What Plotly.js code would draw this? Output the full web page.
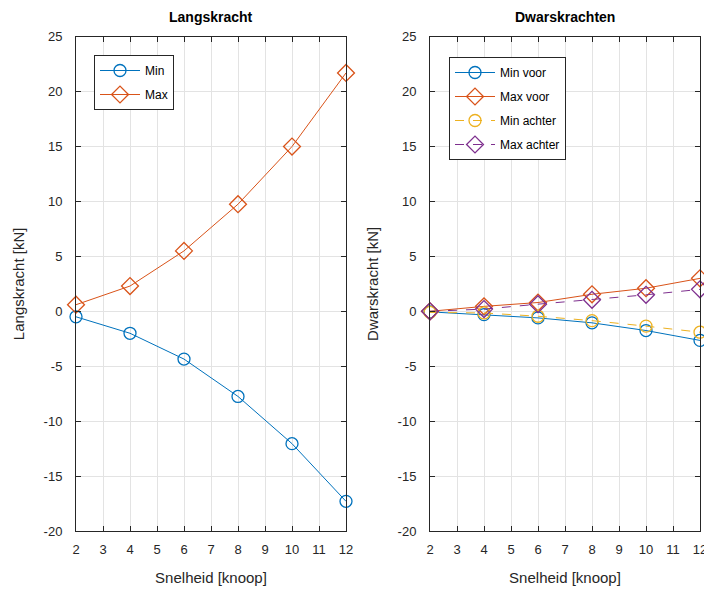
<!DOCTYPE html>
<html>
<head>
<meta charset="utf-8">
<script src="https://cdn.plot.ly/plotly-3.0.1.min.js"></script>
<style>html,body{margin:0;padding:0;background:#fff;}#chart{width:704px;height:590px;}</style>
</head>
<body>
<div id="chart"></div>
<script>
// Data
const snelheid = [2, 4, 6, 8, 10, 12];
const langMin = [-0.5, -2.0, -4.35, -7.75, -12.05, -17.3];
const langMax = [0.6, 2.3, 5.5, 9.75, 15.0, 21.7];
const dwarsMinVoor = [-0.05, -0.3, -0.6, -1.05, -1.75, -2.65];
const dwarsMaxVoor = [0.0, 0.45, 0.8, 1.55, 2.1, 3.0];
const dwarsMinAchter = [-0.1, -0.15, -0.45, -0.85, -1.35, -1.9];
const dwarsMaxAchter = [0.0, 0.2, 0.65, 1.05, 1.5, 2.0];
const xTicks = [2, 3, 4, 5, 6, 7, 8, 9, 10, 11, 12];
const yTicks = [-20, -15, -10, -5, 0, 5, 10, 15, 20, 25];

const C = {blue: '#0072BD', orange: '#D95319', yellow: '#EDB120', purple: '#7E2F8E'};
const FONT = 'Liberation Sans, Arial, Helvetica, sans-serif';

function tr(y, name, color, symbol, size, dash, xa, ya, legend) {
  return {
    x: snelheid, y: y, name: name, type: 'scatter', mode: 'lines+markers',
    xaxis: xa, yaxis: ya, legend: legend, legendgroup: name, cliponaxis: false,
    line: {color: color, width: 1, dash: dash},
    marker: {symbol: symbol, size: size, color: color, line: {color: color, width: 1.3}}
  };
}

const traces = [
  tr(langMin, 'Min', C.blue, 'circle-open', 12, 'solid', 'x', 'y', 'legend'),
  tr(langMax, 'Max', C.orange, 'diamond-open', 13, 'solid', 'x', 'y', 'legend'),
  tr(dwarsMinVoor, 'Min voor', C.blue, 'circle-open', 12, 'solid', 'x2', 'y2', 'legend2'),
  tr(dwarsMaxVoor, 'Max voor', C.orange, 'diamond-open', 13, 'solid', 'x2', 'y2', 'legend2'),
  tr(dwarsMinAchter, 'Min achter', C.yellow, 'circle-open', 12, 'dash', 'x2', 'y2', 'legend2'),
  tr(dwarsMaxAchter, 'Max achter', C.purple, 'diamond-open', 13, 'dash', 'x2', 'y2', 'legend2')
];

const W = 704, H = 590;
function xaxis(d0, d1, anchor) {
  return {
    domain: [d0 / W, d1 / W], anchor: anchor, range: [2, 12],
    tickmode: 'array', tickvals: xTicks, ticktext: xTicks.map(String),
    ticks: 'inside', ticklen: 5, tickcolor: '#262626', tickwidth: 1,
    showline: true, linecolor: '#262626', linewidth: 1, mirror: 'ticks',
    showgrid: true, gridcolor: '#e3e3e3', gridwidth: 1, zeroline: false,
    ticklabeloverflow: 'allow', ticklabelstandoff: 6,
    tickfont: {family: FONT, size: 13, color: '#262626'},
    title: {text: 'Snelheid [knoop]', font: {family: FONT, size: 15, color: '#262626'}, standoff: 16}
  };
}
function yaxis(anchor, label) {
  return {
    domain: [1 - 531 / H, 1 - 36.7 / H], anchor: anchor, range: [-20, 25],
    tickmode: 'array', tickvals: yTicks, ticktext: yTicks.map(String),
    ticks: 'inside', ticklen: 5, tickcolor: '#262626', tickwidth: 1,
    showline: true, linecolor: '#262626', linewidth: 1, mirror: 'ticks',
    showgrid: true, gridcolor: '#e3e3e3', gridwidth: 1, zeroline: false,
    ticklabeloverflow: 'allow', ticklabelstandoff: 10,
    tickfont: {family: FONT, size: 13, color: '#262626'},
    title: {text: label, font: {family: FONT, size: 15, color: '#262626'}, standoff: 15}
  };
}

const legendBase = {
  bgcolor: '#ffffff', bordercolor: '#262626', borderwidth: 1,
  font: {family: FONT, size: 12, color: '#000'},
  xanchor: 'left', yanchor: 'top', traceorder: 'grouped', tracegroupgap: 5, itemwidth: 40
};

const layout = {
  width: W, height: H,
  margin: {l: 0, r: 0, t: 0, b: 0},
  paper_bgcolor: '#ffffff', plot_bgcolor: '#ffffff',
  showlegend: true,
  xaxis: xaxis(76, 346, 'y'),
  yaxis: yaxis('x', 'Langskracht [kN]'),
  xaxis2: xaxis(430, 700, 'y2'),
  yaxis2: yaxis('x2', 'Dwarskracht [kN]'),
  legend: Object.assign({}, legendBase, {x: 94 / W, y: 1 - 55 / H}),
  legend2: Object.assign({}, legendBase, {x: 449 / W, y: 1 - 57 / H}),
  annotations: [
    {text: '<b>Langskracht</b>', xref: 'paper', yref: 'paper', x: 211 / W, y: 1 - 17 / H,
     xanchor: 'center', yanchor: 'middle', showarrow: false, font: {family: FONT, size: 14, color: '#000'}},
    {text: '<b>Dwarskrachten</b>', xref: 'paper', yref: 'paper', x: 565 / W, y: 1 - 17 / H,
     xanchor: 'center', yanchor: 'middle', showarrow: false, font: {family: FONT, size: 14, color: '#000'}}
  ]
};

Plotly.newPlot('chart', traces, layout, {displayModeBar: false, staticPlot: true});
</script>
</body>
</html>
